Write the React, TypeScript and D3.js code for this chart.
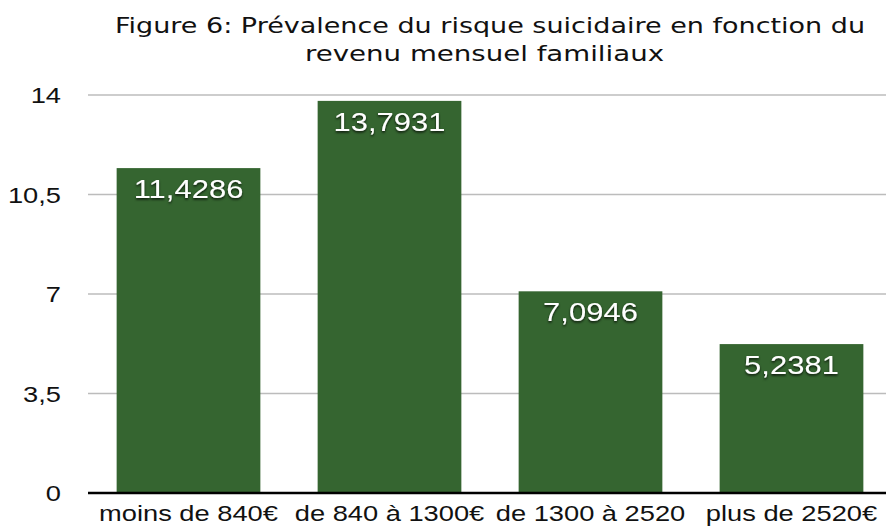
import React from 'react';
import { scaleBand, scaleLinear } from 'd3';

const categories = ['moins de 840€', 'de 840 à 1300€', 'de 1300 à 2520', 'plus de 2520€'];
const values = [11.4286, 13.7931, 7.0946, 5.2381];
const valueLabels = ['11,4286', '13,7931', '7,0946', '5,2381'];
const yTicks = [0, 3.5, 7, 10.5, 14];
const yTickLabels = ['0', '3,5', '7', '10,5', '14'];

const width = 886;
const height = 528;
// the reference text is stretched horizontally
const sx = 1.24;

const Stretched = ({ x, y, children, ...rest }: any) => (
  <text transform={`translate(${x},${y}) scale(${sx},1)`} {...rest}>{children}</text>
);

export default function App() {
  const x = scaleBand<string>()
    .domain(categories)
    .range([88, 892])
    .paddingInner(0.285)
    .paddingOuter(0.1425);

  const y = scaleLinear().domain([0, 14]).range([493, 95]);

  return (
    <svg
      width={width}
      height={height}
      style={{ position: 'absolute', left: 0, top: 0, background: '#fff' }}
    >
      <defs>
        <filter id="shadow" x="-20%" y="-40%" width="140%" height="180%">
          <feDropShadow dx="0" dy="1.5" stdDeviation="1.2" floodColor="#000" floodOpacity="0.8" />
        </filter>
      </defs>

      {/* Title */}
      <g fontFamily="DejaVu Sans, Verdana, sans-serif" fontSize={22} fill="#111">
        <text x={115} y={33} textLength={750} lengthAdjust="spacingAndGlyphs">
          Figure 6: Prévalence du risque suicidaire en fonction du
        </text>
        <text x={305} y={61} textLength={359} lengthAdjust="spacingAndGlyphs">
          revenu mensuel familiaux
        </text>
      </g>

      {/* Gridlines */}
      {yTicks.filter((t) => t > 0).map((t) => (
        <line key={t} x1={88} x2={886} y1={y(t)} y2={y(t)} stroke="#bcbcbc" strokeWidth={1.5} />
      ))}

      {/* Y tick labels */}
      <g fontFamily="Liberation Sans, Arial, sans-serif" fontSize={22} fill="#111" textAnchor="end">
        {yTicks.map((t, i) => (
          <Stretched key={t} x={61} y={y(t) + 8}>{yTickLabels[i]}</Stretched>
        ))}
      </g>

      {/* Bars */}
      {categories.map((c, i) => (
        <rect
          key={c}
          x={x(c)}
          y={y(values[i])}
          width={x.bandwidth()}
          height={y(0) - y(values[i])}
          fill="#356530"
        />
      ))}

      {/* Value labels */}
      <g fontFamily="Liberation Sans, Arial, sans-serif" fontSize={25} fill="#fff" textAnchor="middle" filter="url(#shadow)">
        {categories.map((c, i) => (
          <Stretched key={c} x={(x(c) ?? 0) + x.bandwidth() / 2} y={y(values[i]) + 30}>{valueLabels[i]}</Stretched>
        ))}
      </g>

      {/* Baseline */}
      <line x1={88} x2={886} y1={y(0)} y2={y(0)} stroke="#000" strokeWidth={2.5} />

      {/* X labels */}
      <g fontFamily="Liberation Sans, Arial, sans-serif" fontSize={22} fill="#111" textAnchor="middle">
        {categories.map((c) => (
          <Stretched key={c} x={(x(c) ?? 0) + x.bandwidth() / 2} y={521}>{c}</Stretched>
        ))}
      </g>
    </svg>
  );
}
